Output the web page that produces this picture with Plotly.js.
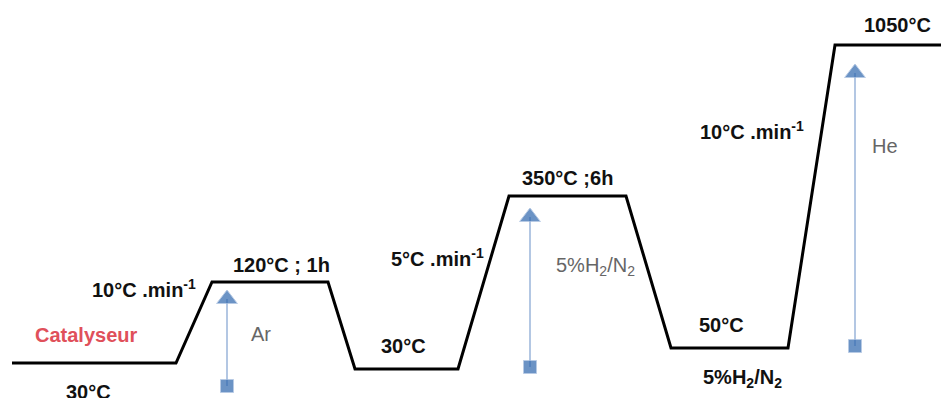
<!DOCTYPE html>
<html><head><meta charset="utf-8">
<script src="https://cdn.plot.ly/plotly-3.0.1.min.js"></script>
<style>html,body{margin:0;padding:0;background:#fff}#chart{width:941px;height:398px}</style>
</head><body><div id="chart"></div>
<script>
// Temperature profile (x: time position, y: level on reversed scale)
const profileX = [12, 176, 212, 328, 355, 458, 509, 626, 671, 788, 835, 941];
const profileY = [363, 363, 282, 282, 369, 369, 196, 196, 348, 348, 45, 45];

// Gas flow arrows
const gasNames = ['Ar', '5%H<sub>2</sub>/N<sub>2</sub>', 'He'];
const gasX = [227, 530, 855];
const gasBottom = [386, 367, 346];
const gasTop = [299, 217, 73];

// Labels
const labelText = ['30°C', '10°C .min<sup>-1</sup>', '120°C ; 1h', '30°C', '5°C .min<sup>-1</sup>', '350°C ;6h', '50°C', '5%H<sub>2</sub>/N<sub>2</sub>', '10°C .min<sup>-1</sup>', '1050°C'];
const labelX = [88, 144, 281, 403, 437, 567, 721, 742, 752, 897];
const labelY = [392, 288, 265, 346, 257, 178, 325, 378, 130, 25];

const traces = [{
  x: profileX, y: profileY, mode: 'lines', type: 'scatter',
  line: {color: '#000', width: 3}, hoverinfo: 'skip'
}];
for (let i = 0; i < gasX.length; i++) {
  traces.push({
    x: [gasX[i], gasX[i]], y: [gasBottom[i], gasTop[i]], mode: 'lines+markers', type: 'scatter',
    line: {color: '#9ab5da', width: 1.5},
    marker: {symbol: ['square', 'triangle-up'], size: [13, 18], color: '#2d66ad'},
    hoverinfo: 'skip'
  });
}

const annotations = [];
for (let i = 0; i < labelText.length; i++) {
  annotations.push({x: labelX[i], y: labelY[i], text: '<b>' + labelText[i] + '</b>', showarrow: false,
    font: {family: 'Liberation Sans, Arial', size: 20, color: '#111'}, xanchor: 'center', yanchor: 'middle'});
}
annotations.push({x: 86, y: 335, text: '<b>Catalyseur</b>', showarrow: false,
  font: {family: 'Liberation Sans, Arial', size: 20, color: '#e0505a'}, xanchor: 'center', yanchor: 'middle'});
const gasLabelX = [261, 595, 885];
const gasLabelY = [334, 266, 146];
for (let i = 0; i < gasNames.length; i++) {
  annotations.push({x: gasLabelX[i], y: gasLabelY[i], text: gasNames[i], showarrow: false,
    font: {family: 'Liberation Sans, Arial', size: 20, color: '#666'}, xanchor: 'center', yanchor: 'middle'});
}

const layout = {
  width: 941, height: 398, margin: {l: 0, r: 0, t: 0, b: 0},
  paper_bgcolor: '#fff', plot_bgcolor: '#fff', showlegend: false,
  xaxis: {range: [0, 941], visible: false, fixedrange: true},
  yaxis: {range: [398, 0], visible: false, fixedrange: true},
  annotations: annotations
};
Plotly.newPlot('chart', traces, layout, {displayModeBar: false, staticPlot: true});
</script></body></html>
